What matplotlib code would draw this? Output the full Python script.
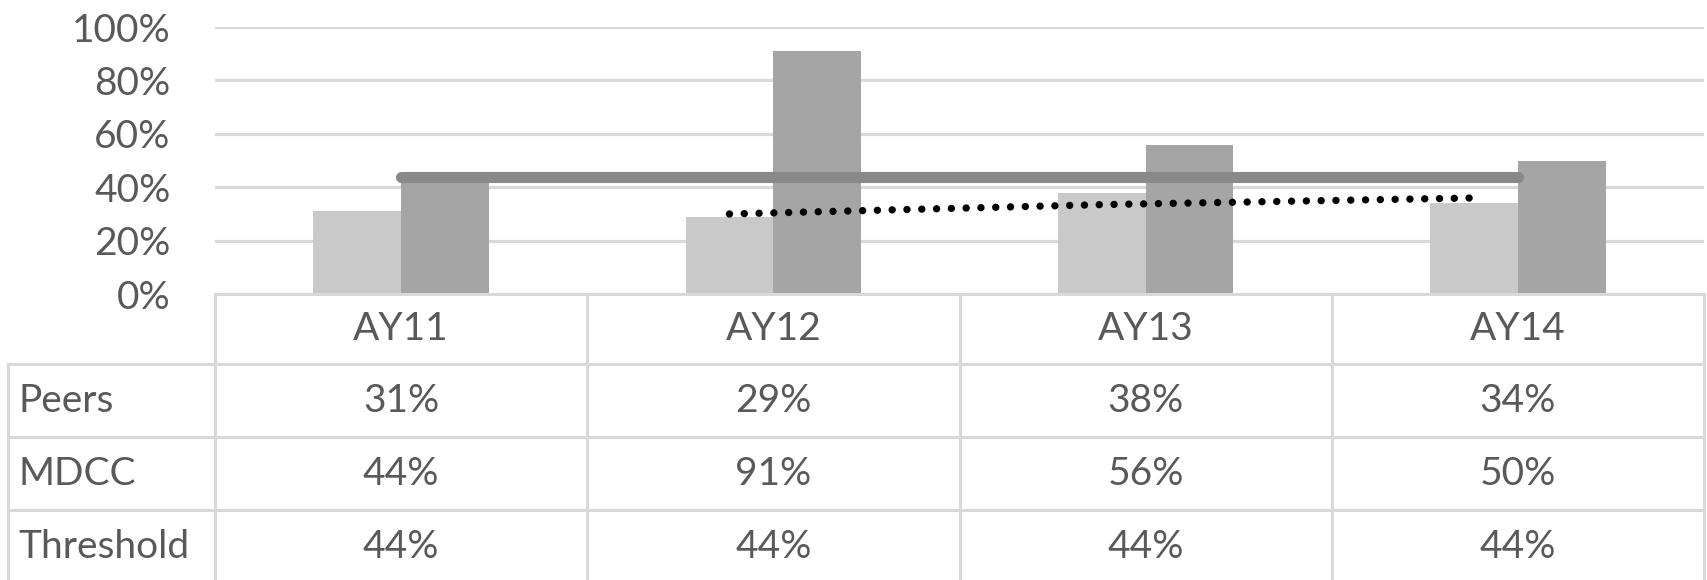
import numpy as np
import matplotlib.pyplot as plt

plt.rcParams['font.family'] = ['Lato', 'DejaVu Sans']

# data
years = ['AY11', 'AY12', 'AY13', 'AY14']
peers = [31, 29, 38, 34]
mdcc = [44, 91, 56, 50]
threshold = [44, 44, 44, 44]
# 2-period moving average of Peers (AY12..AY14)
peers_avg = [30, 33.5, 36]

row_names = ['Peers', 'MDCC', 'Threshold']
row_vals = [peers, mdcc, threshold]

c_peers = '#c9c9c9'
c_mdcc = '#a5a5a5'
c_thr = '#898989'
c_grid = '#d9d9d9'
c_text = '#595959'
fs = 28

W, H = 1707, 580
fig = plt.figure(figsize=(W / 100, H / 100), dpi=100)

left_px, right_px = 215, 1704
zero_px, top_px = 294.1, 27.0

ax = fig.add_axes([left_px / W, 1 - zero_px / H, (right_px - left_px) / W, (zero_px - top_px) / H])
x = np.arange(len(years))
bw = 0.236
ax.bar(x - bw / 2, np.array(peers) / 100, bw, color=c_peers, zorder=2)
ax.bar(x + bw / 2, np.array(mdcc) / 100, bw, color=c_mdcc, zorder=2)
ax.plot(x, np.array(threshold) / 100, color=c_thr, lw=8, solid_capstyle='round', zorder=3)
ax.plot(x[1:] - bw / 2, np.array(peers_avg) / 100, color='black', lw=5.3,
        linestyle=(0, (0.01, 2.0)), dash_capstyle='round', zorder=4)

ax.set_xlim(-0.5, 3.5)
ax.set_ylim(0, 1.0)
ax.set_yticks(np.arange(0, 1.01, 0.2))
ax.set_yticklabels(['%d%%' % v for v in range(0, 101, 20)])
ax.tick_params(axis='y', length=0, pad=32, labelsize=fs, labelcolor=c_text)
ax.set_xticks([])
for s in ax.spines.values():
    s.set_visible(False)
for v in np.arange(0.2, 1.01, 0.2):
    ax.axhline(v, color=c_grid, lw=2.3, zorder=1)

# table below the chart
tab = fig.add_axes([0, 0, 1, 1 - zero_px / H])
u = 4 / (right_px - left_px)
tab.set_xlim(-0.5 - left_px * u, 3.5 + (W - right_px) * u)
tab.set_ylim(H - zero_px, 0)
tab.axis('off')
lab_left = -0.5 - (left_px - 7.7) * u
rows = [0, 70.3, 143.2, 215.7, 290]
lw_t = 2.2
tab.plot([-0.5, 3.5], [rows[0], rows[0]], color=c_grid, lw=lw_t, clip_on=False)
for r in rows[1:4]:
    tab.plot([lab_left, 3.5], [r, r], color=c_grid, lw=lw_t, clip_on=False)
tab.plot([lab_left, lab_left], [rows[1], rows[4]], color=c_grid, lw=lw_t, clip_on=False)
for xv in np.arange(-0.5, 3.6, 1):
    tab.plot([xv, xv], [rows[0], rows[4]], color=c_grid, lw=lw_t, clip_on=False)

for i, yr in enumerate(years):
    tab.text(i, (rows[0] + rows[1]) / 2, yr, ha='center', va='center', fontsize=fs, color=c_text)
for j, (name, vals) in enumerate(zip(row_names, row_vals)):
    yc = (rows[j + 1] + rows[j + 2]) / 2
    tab.text(lab_left + 10.7 * u, yc, name, ha='left', va='center', fontsize=fs, color=c_text)
    for i, v in enumerate(vals):
        tab.text(i, yc, '%d%%' % v, ha='center', va='center', fontsize=fs, color=c_text)

fig.savefig('out.png', dpi=100)
